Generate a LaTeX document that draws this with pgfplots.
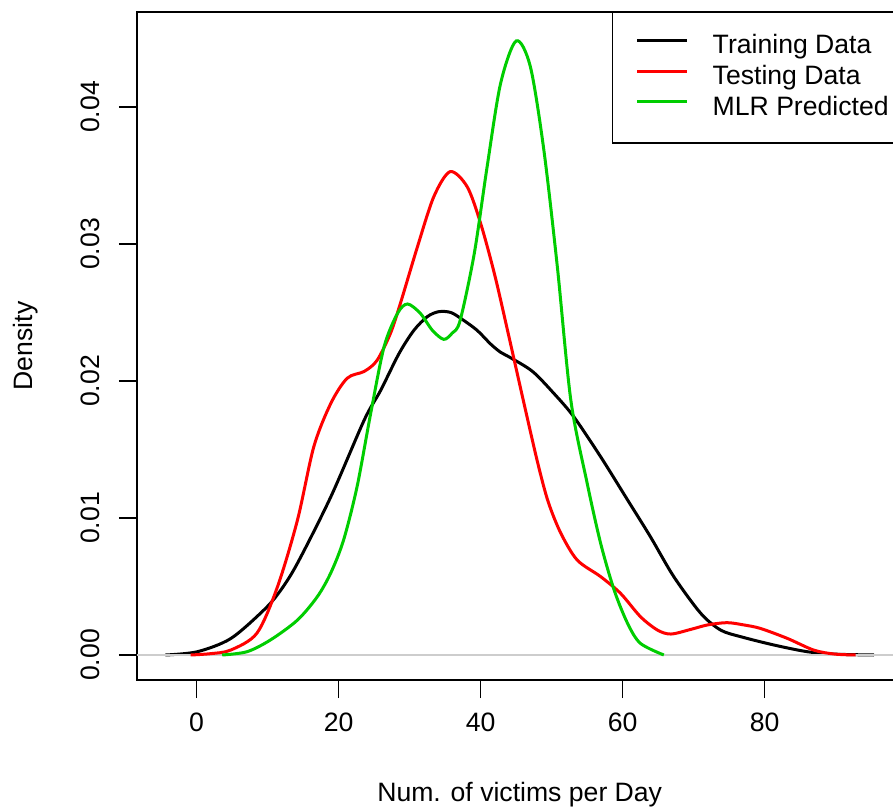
\documentclass[border=0pt]{standalone}
\usepackage{fontspec}
\setmainfont{Liberation Sans}
\usepackage{pgfplots}
\pgfplotsset{compat=1.18}
\definecolor{rgreen}{RGB}{0,205,0}
\definecolor{rred}{RGB}{255,0,0}
\definecolor{rgray}{RGB}{205,205,205}
\begin{document}
\fontsize{13.3pt}{16pt}\selectfont
\begin{tikzpicture}
\begin{axis}[
  scale only axis,
  width=382.7pt, height=334pt,
  xmin=-8.4, xmax=99.4,
  ymin=-0.001825, ymax=0.046934,
  axis line style={line width=0.75pt},
  tick style={line width=0.75pt, black},
  tick align=outside,
  tick pos=left,
  major tick length=9pt,
  xtick={0,20,40,60,80},
  xticklabels={0,20,40,60,80},
  ytick={0,0.01,0.02,0.03,0.04},
  yticklabels={0.00,0.01,0.02,0.03,0.04},
  scaled y ticks=false,
  xticklabel style={anchor=center, yshift=-12pt},
  yticklabel style={xshift=-14.5pt, rotate=90, anchor=center},
  xlabel={Num. of victims per Day},
  ylabel={Density},
  xlabel style={at={(rel axis cs:0.5,0)}, anchor=center, yshift=-57.5pt},
  ylabel style={at={([xshift=-55.5pt]rel axis cs:0,0.5)}, anchor=center},
  legend cell align=left,
  legend style={at={(rel axis cs:1,1)}, anchor=north east, draw=black, line width=0.75pt, fill=white,
    inner xsep=6.5pt, inner ysep=11pt, row sep=3pt, column sep=12pt,
    nodes={inner sep=0pt, text height=9.6pt, text depth=2.8pt},
    font=\fontsize{13.3pt}{16pt}\selectfont},
  legend image code/.code={\path (0pt,3.4pt); \draw[#1] (5pt,3.4pt) -- (30pt,3.4pt);},
]
\addplot[black, line width=1.5pt, smooth, tension=0.5] coordinates {
(-4.4,0) (0.1,0.00024) (4.8,0.0012) (9.5,0.0033) (11.8,0.0047) (14.2,0.0067) (18.9,0.01155) (23.6,0.01715) (25.9,0.0193) (28.5,0.022) (30.6,0.0237) (32.5,0.0247) (34.1,0.02506) (35.8,0.025) (37.4,0.0245) (39.5,0.0237) (41.4,0.0227) (42.8,0.0221) (44.2,0.0217) (47.3,0.0207) (50.3,0.0191) (53.1,0.0174) (56.9,0.01447) (60.7,0.01131) (63.9,0.00864) (67.2,0.00572) (71.0,0.00304) (73.8,0.00182) (76.6,0.00134) (81.3,0.00073) (86.0,0.00024) (90,0.00006) (95.4,0)
};
\addlegendentry{Training Data}
\addplot[rgray, line width=0.8pt, forget plot] coordinates {(-8.4,0) (99.4,0)};
\addplot[rred, line width=1.5pt, smooth, tension=0.5] coordinates {
(-0.85,0) (2,0.0001) (4.8,0.00036) (8.5,0.0016) (11.4,0.005) (14.2,0.00985) (16.5,0.0152) (18.9,0.01837) (21.2,0.0202) (23.6,0.0207) (25.4,0.0215) (27.3,0.02348) (28.7,0.02567) (31.1,0.0298) (33.4,0.03345) (35.7,0.03528) (38.1,0.03418) (40.0,0.0315) (42.0,0.0277) (44.0,0.0232) (46.0,0.0186) (48.0,0.0141) (49.5,0.0112) (51.3,0.00888) (53.6,0.00693) (56.9,0.00572) (59.7,0.0045) (62.5,0.0028) (64.9,0.00182) (66.8,0.00153) (69.6,0.00187) (72,0.0022) (74.7,0.00236) (77,0.0022) (79.4,0.00194) (83.2,0.00121) (86.9,0.00036) (89.8,0.00007) (92.8,0)
};
\addlegendentry{Testing Data}
\addplot[rgreen, line width=1.5pt, smooth, tension=0.5] coordinates {
(3.6,0) (7.1,0.00024) (10.4,0.0011) (14.2,0.00255) (17.0,0.00426) (18.9,0.006) (20.7,0.0084) (22.6,0.0123) (24.5,0.0176) (26.4,0.0225) (28.3,0.02494) (29.7,0.02562) (31.5,0.02494) (33.2,0.0237) (34.8,0.02304) (36.0,0.0235) (37.1,0.0244) (39.1,0.0293) (40.9,0.0356) (42.8,0.0417) (45.0,0.04482) (47.0,0.04294) (48.9,0.03686) (50.8,0.02834) (52.7,0.0186) (55.0,0.01254) (56.9,0.00815) (58.8,0.00474) (60.7,0.0023) (62.5,0.00085) (65.8,0.0)
};
\addlegendentry{MLR Predicted}
\end{axis}
\pgfresetboundingbox
\path[use as bounding box] ([xshift=-68.5pt, yshift=-64pt]current axis.south west) rectangle ([xshift=-4.7pt, yshift=6pt]current axis.north east);
\end{tikzpicture}
\end{document}
